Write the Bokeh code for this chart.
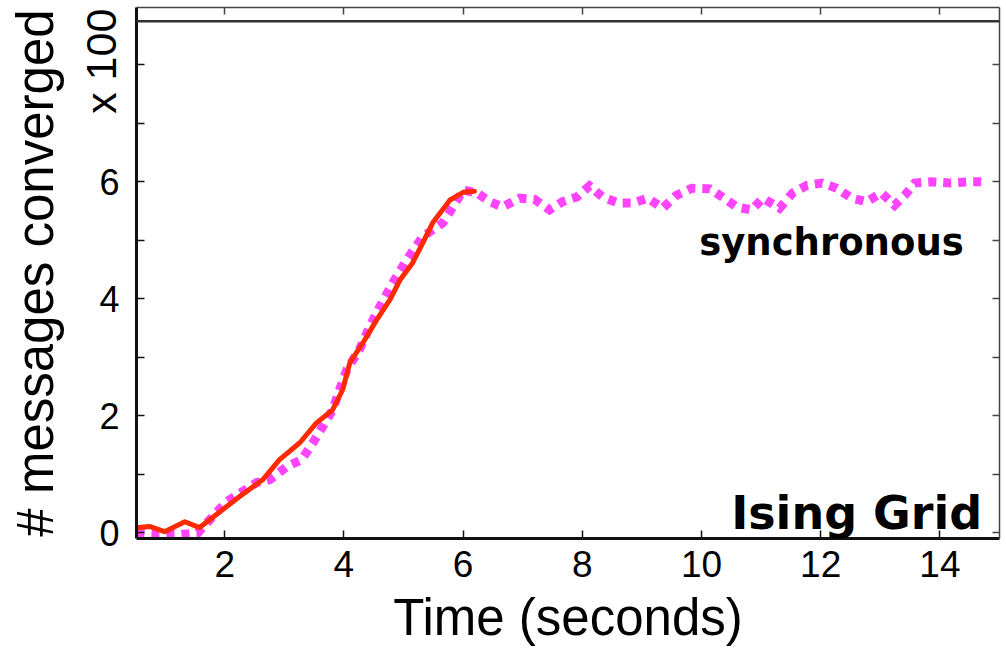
from bokeh.plotting import figure
from bokeh.models import Range1d, LinearAxis, FixedTicker, Label, Span
from bokeh.embed import file_html
from bokeh.resources import INLINE

# ---- data (x: seconds, y: messages converged x 100) ----
async_x = [0.45, 0.74, 0.99, 1.33, 1.58, 1.92, 2.25, 2.64, 2.92, 3.26, 3.54, 3.81,
           3.98, 4.10, 4.32, 4.55, 4.77, 4.94, 5.15, 5.32, 5.49, 5.78, 6.00, 6.19]
async_y = [0.08, 0.11, 0.02, 0.19, 0.09, 0.36, 0.62, 0.91, 1.25, 1.54, 1.88, 2.10,
           2.45, 2.91, 3.25, 3.64, 3.98, 4.32, 4.61, 4.95, 5.30, 5.69, 5.82, 5.84]

sync_x = [0.52, 0.90, 1.25, 1.55, 1.80, 2.03, 2.54, 2.76, 3.04, 3.29, 3.48, 3.64,
          3.81, 3.93, 4.05, 4.26, 4.43, 4.60, 4.82, 5.05, 5.32, 5.66, 5.83, 6.00,
          6.23, 6.45, 6.66, 6.95, 7.20, 7.45, 7.67, 7.91, 8.12, 8.34, 8.60, 8.85,
          9.10, 9.35, 9.58, 9.84, 10.14, 10.35, 10.59, 10.84, 11.03, 11.31, 11.53,
          11.77, 12.02, 12.27, 12.52, 12.77, 13.02, 13.24, 13.41, 13.58, 13.86,
          14.16, 14.50, 14.80]
sync_y = [0.00, -0.03, -0.03, 0.00, 0.28, 0.53, 0.86, 0.91, 1.13, 1.25, 1.54, 1.81,
          2.10, 2.45, 2.79, 3.13, 3.52, 3.86, 4.27, 4.66, 5.06, 5.30, 5.57, 5.86,
          5.81, 5.66, 5.57, 5.72, 5.70, 5.52, 5.66, 5.74, 5.93, 5.74, 5.64, 5.64,
          5.72, 5.55, 5.77, 5.89, 5.88, 5.74, 5.57, 5.52, 5.72, 5.55, 5.81,
          5.94, 5.98, 5.89, 5.72, 5.66, 5.81, 5.60, 5.77, 5.98, 6.00,
          5.98, 6.00, 6.00]

total_messages = 8.747  # x 100, horizontal reference line

x_ticks = [2, 4, 6, 8, 10, 12, 14]
y_ticks = [0, 1, 2, 3, 4, 5, 6, 7, 8]
y_tick_labels = {0: "0", 1: "", 2: "2", 3: "", 4: "4", 5: "", 6: "6", 7: "", 8: ""}

x_label = "Time (seconds)"
y_label = "# messages converged"
y_scale_note = "x 100"
series_note = "synchronous"
title_note = "Ising Grid"

FONT = "Liberation Sans"
COMIC = "DejaVu Sans"

p = figure(width=1006, height=648,
           x_range=Range1d(0.52, 15.0), y_range=Range1d(-0.097, 8.98),
           output_backend="svg", toolbar_location=None,
           min_border_left=136, min_border_right=7,
           min_border_top=7, min_border_bottom=109,
           x_axis_type=None, y_axis_type=None)
p.grid.visible = False
p.outline_line_color = None
p.background_fill_color = "white"
p.border_fill_color = "white"


def style_axis(ax, width, color, tick_in, show_labels):
    ax.axis_line_width = width
    ax.axis_line_color = color
    ax.major_tick_line_width = 1.5
    ax.major_tick_line_color = color
    ax.major_tick_in = tick_in
    ax.major_tick_out = 0
    ax.minor_tick_line_color = None
    if not show_labels:
        ax.major_label_text_font_size = "0px"
        ax.major_label_text_color = None
        ax.major_label_standoff = 0


HAS_ALIGN = "axis_label_align" in LinearAxis.properties()

# bottom axis with title
xb = LinearAxis(ticker=FixedTicker(ticks=x_ticks))
style_axis(xb, 3, "#111111", 8, True)
xb.major_label_text_font = FONT
xb.major_label_text_font_size = "37px"
xb.major_label_text_color = "black"
xb.major_label_standoff = 12
xb.axis_label = x_label
xb.axis_label_text_font = FONT
xb.axis_label_text_font_size = "51px"
xb.axis_label_text_font_style = "normal"
xb.axis_label_text_color = "black"
xb.axis_label_standoff = 9
p.add_layout(xb, "below")

# left axis: ticks + tick labels
yl = LinearAxis(ticker=FixedTicker(ticks=y_ticks))
style_axis(yl, 3, "#111111", 8, True)
yl.major_label_overrides = y_tick_labels
yl.major_label_text_font = FONT
yl.major_label_text_font_size = "36px"
yl.major_label_text_color = "black"
yl.major_label_standoff = 17
p.add_layout(yl, "left")

# "x 100" note, as the title of an invisible left axis, aligned to the top.
# The label is centred on the top edge, so non-breaking spaces after the
# text push the visible part down into the picture.
yn = LinearAxis(ticker=FixedTicker(ticks=[]))
yn.axis_line_color = None
yn.major_tick_line_color = None
yn.minor_tick_line_color = None
yn.major_label_standoff = 0
yn.major_label_text_font_size = "0px"
yn.axis_label = y_scale_note + "\u00a0" * 9
yn.axis_label_text_font = FONT
yn.axis_label_text_font_size = "43px"
yn.axis_label_text_font_style = "normal"
yn.axis_label_text_color = "black"
yn.axis_label_standoff = -28
if HAS_ALIGN:
    yn.axis_label_align = "end"
p.add_layout(yn, "left")

# y title on another invisible left axis
yt = LinearAxis(ticker=FixedTicker(ticks=[]))
yt.axis_line_color = None
yt.major_tick_line_color = None
yt.minor_tick_line_color = None
yt.major_label_standoff = 0
yt.major_label_text_font_size = "0px"
yt.axis_label = y_label
yt.axis_label_text_font = FONT
yt.axis_label_text_font_size = "51px"
yt.axis_label_text_font_style = "normal"
yt.axis_label_text_color = "black"
yt.axis_label_standoff = 10
p.add_layout(yt, "left")

# top / right frame axes with inward ticks
xt = LinearAxis(ticker=FixedTicker(ticks=x_ticks))
style_axis(xt, 1.5, "#444444", 7, False)
p.add_layout(xt, "above")

yr = LinearAxis(ticker=FixedTicker(ticks=y_ticks))
style_axis(yr, 1.5, "#444444", 7, False)
p.add_layout(yr, "right")

# horizontal reference line
p.add_layout(Span(location=total_messages, dimension="width",
                  line_color="#333333", line_width=2.5))

# series
p.line(sync_x, sync_y, line_color="#ff44ff", line_width=9,
       line_dash="8 7", line_cap="butt", line_join="miter")
p.line(async_x, async_y, line_color="#ff2a00", line_width=5,
       line_cap="round", line_join="round")

# in-plot annotations
p.add_layout(Label(x=14.40, y=4.96, text=series_note, text_font=COMIC,
                   text_font_size="37px", text_font_style="bold",
                   text_color="black", text_align="right",
                   text_baseline="alphabetic"))
p.add_layout(Label(x=14.71, y=0.345, text=title_note, text_font=COMIC,
                   text_font_size="46px", text_font_style="bold",
                   text_color="black", text_align="right",
                   text_baseline="alphabetic"))

open("out.html", "w").write(file_html(p, INLINE))
